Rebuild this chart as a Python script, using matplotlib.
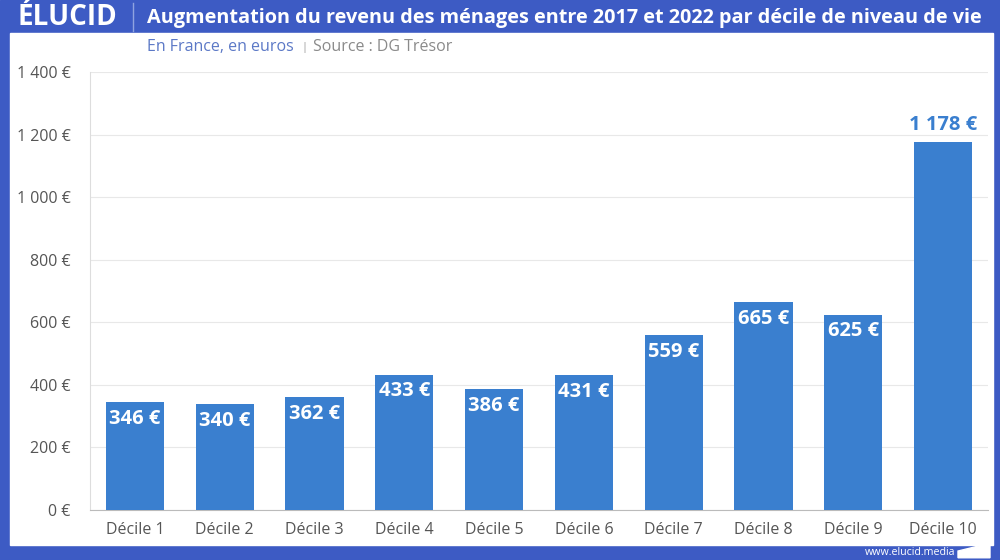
import matplotlib.pyplot as plt
from matplotlib.patches import Rectangle, Polygon
from matplotlib.ticker import FuncFormatter

plt.rcParams['font.family'] = ['Open Sans', 'DejaVu Sans']

deciles = ['Décile 1', 'Décile 2', 'Décile 3', 'Décile 4', 'Décile 5',
           'Décile 6', 'Décile 7', 'Décile 8', 'Décile 9', 'Décile 10']
gains = [346, 340, 362, 433, 386, 431, 559, 665, 625, 1178]
yticks = [0, 200, 400, 600, 800, 1000, 1200, 1400]

frame_blue = '#3d5bc4'
bar_blue = '#3a7fcf'


def euro(v):
    s = f'{int(v):,}'.replace(',', ' ')
    return s + ' €'


fig = plt.figure(figsize=(10, 5.6), dpi=100)

# frame
fig.patches.append(Rectangle((0, 0), 1, 1, transform=fig.transFigure,
                             color=frame_blue, zorder=-10))
fig.patches.append(Rectangle((0.010, 0.027), 0.983, 0.914, transform=fig.transFigure,
                             color='white', zorder=-9))

# header
fig.text(0.017, 0.968, 'ÉLUCID', color='white', fontsize=20, fontweight='bold',
         va='center', ha='left')
fig.add_artist(plt.Line2D([0.133, 0.133], [0.945, 0.995], color='#8fa3e0', lw=1))
fig.text(0.147, 0.968, 'Augmentation du revenu des ménages entre 2017 et 2022 par décile de niveau de vie',
         color='white', fontsize=14.3, fontweight='bold', va='center', ha='left')
fig.text(0.147, 0.916, 'En France, en euros', color='#5b78c6', fontsize=11.5, va='center')
fig.text(0.301, 0.916, '|', color='#999999', fontsize=8, va='center')
fig.text(0.313, 0.916, 'Source : DG Trésor', color='#8a8a8a', fontsize=11.5, va='center')

# footer
fig.text(0.955, 0.014, 'www.elucid.media', color='white', fontsize=7.7, ha='right', va='center')
fig.patches.append(Polygon([[0.958, 0.004], [0.990, 0.004], [0.990, 0.030], [0.958, 0.016]],
                           closed=True, transform=fig.transFigure, color='white'))

ax = fig.add_axes([0.09, 0.0893, 0.898, 0.7817])
x = range(len(deciles))
ax.bar(x, gains, width=0.65, color=bar_blue, zorder=3)

for i, v in enumerate(gains):
    if v > 1000:
        ax.text(i, v + 52, euro(v), ha='center', va='center', color=bar_blue,
                fontsize=14.5, fontweight='bold', zorder=4)
    else:
        ax.text(i, v - 54, euro(v), ha='center', va='center', color='white',
                fontsize=14.5, fontweight='bold', zorder=4)

ax.set_xlim(-0.5, 9.5)
ax.set_ylim(0, 1400)
ax.set_yticks(yticks)
ax.yaxis.set_major_formatter(FuncFormatter(lambda v, p: euro(v)))
ax.set_xticks(list(x))
ax.set_xticklabels(deciles)
ax.tick_params(axis='both', length=0, labelsize=11.5, labelcolor='#555555')
ax.tick_params(axis='x', pad=9)
ax.tick_params(axis='y', pad=14)
ax.grid(axis='y', color='#e8e8e8', lw=0.8, zorder=0)
for s in ['top', 'right']:
    ax.spines[s].set_visible(False)
ax.spines['left'].set_color('#dddddd')
ax.spines['bottom'].set_color('#bbbbbb')

fig.savefig('out.png', dpi=100)
